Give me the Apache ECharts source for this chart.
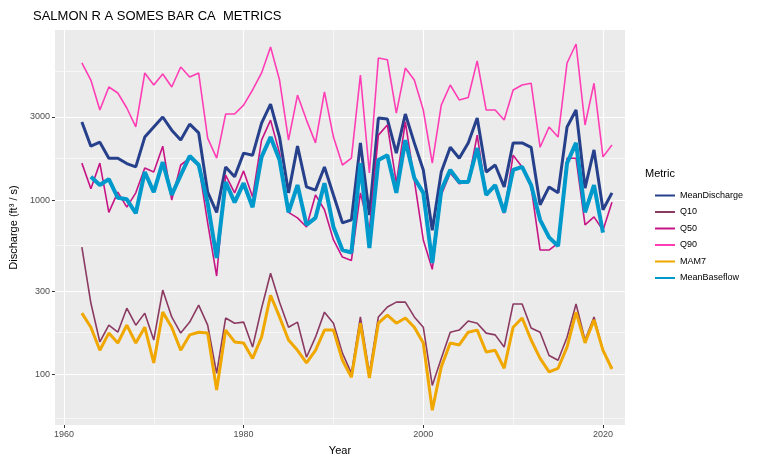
<!DOCTYPE html>
<html>
<head>
<meta charset="utf-8">
<script src="https://cdn.jsdelivr.net/npm/echarts@6/dist/echarts.min.js"></script>
<style>html,body{margin:0;padding:0;background:#fff}#chart{width:757px;height:464px}</style>
</head>
<body>
<div id="chart"></div>
<script>
// water years
const years = [1962,1963,1964,1965,1966,1967,1968,1969,1970,1971,1972,1973,1974,1975,1976,1977,1978,1979,1980,1981,
  1982,1983,1984,1985,1986,1987,1988,1989,1990,1991,1992,1993,1994,1995,1996,1997,1998,1999,2000,2001,
  2002,2003,2004,2005,2006,2007,2008,2009,2010,2011,2012,2013,2014,2015,2016,2017,2018,2019,2020,2021];

const meanDischarge = [2810,2040,2150,1740,1740,1620,1550,2300,2630,3000,2520,2210,2730,2430,1110,850,1550,1360,1860,1810,
  2770,3560,2300,1100,2040,1190,1140,1550,1070,740,770,2130,820,2960,2920,1860,3120,2130,1490,670,
  1450,2010,1740,2130,2960,1450,1590,1190,2130,2130,2010,940,1190,1100,2630,3290,1170,1940,880,1100];
const q10 = [537,256,153,191,174,239,191,224,157,304,213,172,199,249,191,101,210,196,199,143,
  239,380,259,186,199,125,163,227,196,132,101,213,101,213,243,259,259,213,186,86,
  123,174,179,202,196,172,168,143,253,253,184,174,128,120,163,253,157,213,137,108];
const q50 = [1630,1160,1630,850,1110,910,1100,1530,1450,2040,1000,1590,1740,1590,740,366,1390,1100,1470,1040,
  2210,2880,1860,850,790,700,1070,880,590,470,450,1100,670,2360,2700,1250,2810,1300,590,400,
  1070,1430,1240,1270,2360,1070,1190,840,1810,1550,1190,516,516,565,1740,1740,720,800,670,970];
const q90 = [6130,4890,3290,4460,4120,3380,2630,5370,4580,5300,4460,5810,5090,5370,2270,1740,3120,3120,3510,4290,
  5370,7570,4890,2210,4010,2880,2130,4180,2300,1590,1740,5230,1430,6550,6400,3160,5730,4890,3290,1630,
  3510,4580,3760,3880,6300,3290,3290,2880,4290,4580,4690,2010,2630,2300,6130,7880,2700,4690,1770,2070];
const mam7 = [224,186,137,172,151,191,151,186,116,227,186,137,168,174,172,81,179,153,151,123,
  163,284,213,157,137,116,137,179,179,120,96,196,95,196,218,196,210,186,151,62,
  110,151,147,174,179,134,137,108,186,210,157,123,103,108,143,227,151,205,137,107];
const meanBaseflow = [null,1360,1220,1320,1030,1010,840,1450,1110,1650,1070,1390,1790,1590,960,465,1270,970,1250,910,
  1770,2300,1700,850,1220,720,790,1250,700,516,500,1630,530,1700,1810,1100,2210,1340,1100,435,
  1140,1490,1270,1270,1990,1070,1220,850,1490,1550,1220,770,610,545,1630,2130,850,1220,650,null];

const metricNames = ['MeanDischarge','Q10','Q50','Q90','MAM7','MeanBaseflow'];
const metricColors = ['#27408B','#8B3A62','#C71585','#FF3EB5','#F0A800','#0099CC'];
const metricWidths = [3,1.6,1.6,1.6,3,4];
const yBreaks = [100,300,1000,3000];
const yMinor = [56,173,548,1732,5477];
const xBreaks = [1960,1980,2000,2020];
const xMinor = [1970,1990,2010];

const allSeries = [meanDischarge,q10,q50,q90,mam7,meanBaseflow];
const lg = Math.log10;

const axisText = {color:'#4d4d4d', fontSize:9, fontFamily:'Liberation Sans'};
const chart = echarts.init(document.getElementById('chart'));
chart.setOption({
  animation:false,
  textStyle:{fontFamily:'Liberation Sans'},
  title:{text:'SALMON R A SOMES BAR CA  METRICS', left:28, top:5,
    textStyle:{fontSize:13, fontWeight:'normal', color:'#000'}},
  grid:{left:52, right:132, top:30, bottom:39, show:true, backgroundColor:'#EBEBEB', borderWidth:0},
  legend:{
    orient:'vertical', left:650, top:186, itemWidth:20, itemHeight:10, itemGap:7.5,
    data:metricNames.map((n,i) => ({name:n, icon:'path://M0,4 L20,4 L20,6 L0,6 Z'})),
    textStyle:{fontSize:9, color:'#000'}
  },
  graphic:[
    {type:'text', left:645, top:168, style:{text:'Metric', fontSize:11, fill:'#000', fontFamily:'Liberation Sans'}}
  ],
  xAxis:[
    {type:'value', min:1959, max:2022.45, name:'Year', nameLocation:'middle', nameGap:20,
     nameTextStyle:{color:'#000', fontSize:11},
     axisLine:{show:false}, axisTick:{customValues:xBreaks, length:3, lineStyle:{color:'#333'}},
     axisLabel:{customValues:xBreaks, formatter:v => String(v), margin:5, ...axisText},
     splitLine:{show:true, lineStyle:{color:'#fff', width:1.1}}},
    {type:'value', min:1959, max:2022.45, position:'bottom',
     axisLine:{show:false}, axisTick:{show:false, customValues:xMinor}, axisLabel:{show:false, customValues:xMinor},
     splitLine:{show:true, lineStyle:{color:'#fff', width:0.6}}}
  ],
  yAxis:[
    {type:'value', min:lg(51), max:3.977, name:'Discharge (ft³ / s)', nameLocation:'middle', nameGap:32,
     nameTextStyle:{color:'#000', fontSize:11},
     axisLine:{show:false}, axisTick:{customValues:yBreaks.map(lg), length:3, lineStyle:{color:'#333'}},
     axisLabel:{customValues:yBreaks.map(lg), formatter:v => String(Math.round(Math.pow(10,v))), margin:5, ...axisText},
     splitLine:{show:true, lineStyle:{color:'#fff', width:1.1}}},
    {type:'value', min:lg(51), max:3.977, position:'left',
     axisLine:{show:false}, axisTick:{show:false, customValues:yMinor.map(lg)}, axisLabel:{show:false, customValues:yMinor.map(lg)},
     splitLine:{show:true, lineStyle:{color:'#fff', width:0.6}}}
  ],
  series: metricNames.map((name,i) => ({
    name, type:'line', showSymbol:false, symbol:'none', xAxisIndex:0, yAxisIndex:0,
    connectNulls:false,
    data: years.map((yr,j) => [yr, allSeries[i][j] == null ? null : lg(allSeries[i][j])]),
    lineStyle:{color:metricColors[i], width:metricWidths[i]},
    itemStyle:{color:metricColors[i]}
  }))
});
</script>
</body>
</html>
